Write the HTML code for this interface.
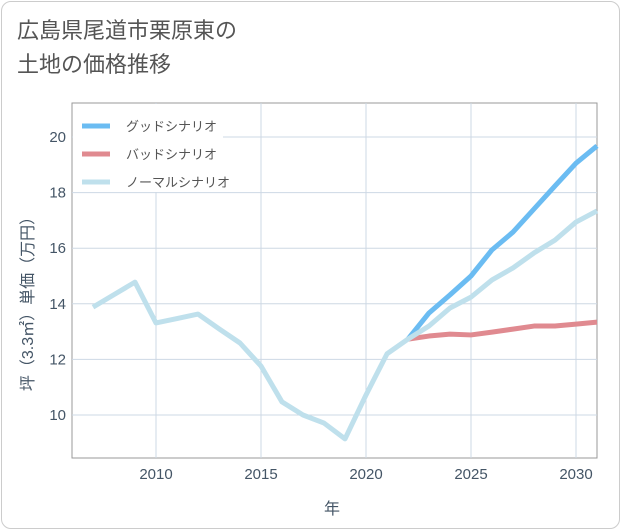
<!DOCTYPE html>
<html><head><meta charset="utf-8"><style>
body{margin:0;background:#fff;font-family:"Liberation Sans","Noto Sans CJK JP",sans-serif}
.card{position:absolute;left:1px;top:1px;width:617px;height:526px;border:1px solid #ccc;border-radius:10px;background:#fff}
.title{position:absolute;left:17px;top:14px;font-size:22px;line-height:34px;color:#555}
svg{position:absolute;left:0;top:0}
</style></head><body>
<div class="card"></div>
<div class="title">広島県尾道市栗原東の<br>土地の価格推移</div>
<svg id="c" width="621" height="530"></svg>
<script>
const years=[2007,2008,2009,2010,2011,2012,2013,2014,2015,2016,2017,2018,2019,2020,2021,2022,2023,2024,2025,2026,2027,2028,2029,2030,2031];
const normal=[13.88,14.33,14.78,13.31,13.47,13.63,13.1,12.59,11.76,10.47,10.0,9.71,9.14,10.72,12.2,12.73,13.2,13.85,14.24,14.86,15.29,15.83,16.29,16.94,17.34];
const fYears=[2022,2023,2024,2025,2026,2027,2028,2029,2030,2031];
const good=[12.73,13.67,14.32,15.0,15.94,16.58,17.41,18.24,19.06,19.68];
const bad=[12.73,12.84,12.91,12.88,12.98,13.09,13.2,13.2,13.27,13.34];
const xTicks=[2010,2015,2020,2025,2030];
const yTicks=[10,12,14,16,18,20];
const X=v=>156+(v-2010)*21, Y=v=>137-(v-20)*27.8;
const L=72,R=597,T=103,B=458;
const s=document.getElementById('c');const NS='http://www.w3.org/2000/svg';
function mk(t,a,p){const e=document.createElementNS(NS,t);for(const k in a)e.setAttribute(k,a[k]);(p||s).appendChild(e);return e;}
let e=mk('rect',{x:L,y:T,width:R-L,height:B-T,fill:'none',stroke:'#999','stroke-width':1});


xTicks.forEach(v=>{let g=mk('line',{x1:X(v),x2:X(v),y1:T,y2:B,stroke:'#cdd8e4'});


let t=mk('text',{x:X(v),y:479,'text-anchor':'middle','font-size':15,fill:'#456'});t.textContent=v;

});
yTicks.forEach(v=>{let g=mk('line',{x1:L,x2:R,y1:Y(v),y2:Y(v),stroke:'#cdd8e4'});


let t=mk('text',{x:66,y:Y(v)+5,'text-anchor':'end','font-size':15,fill:'#456'});t.textContent=v;

});
function line(xs,ys,c,n){let p=mk('polyline',{points:xs.map((x,i)=>X(x)+','+Y(ys[i])).join(' '),fill:'none',stroke:c,'stroke-width':5,'stroke-linejoin':'round'});

}
line(fYears,bad,'#e08a90','bad-scenario-line');
line(fYears,good,'#6bbcf2','good-scenario-line');
line(years,normal,'#bfe0ec','normal-scenario-line');
mk('rect',{x:73,y:104,width:150,height:88,fill:'#fff'});
[['グッドシナリオ','#6bbcf2',126],['バッドシナリオ','#e08a90',154],['ノーマルシナリオ','#bfe0ec',182]].forEach(([n,c,y])=>{
let l=mk('line',{x1:82,x2:110,y1:y,y2:y,stroke:c,'stroke-width':5});


let t=mk('text',{x:126,y:y+5,'font-size':13,fill:'#555'});t.textContent=n;

});
let xt=mk('text',{x:332,y:514,'text-anchor':'middle','font-size':16,fill:'#456'});xt.textContent='年';


let yt=mk('text',{x:0,y:0,'text-anchor':'middle','font-size':16,fill:'#456',transform:'translate(33,300) rotate(-90)'});yt.textContent='坪（3.3㎡）単価（万円）';


</script>
</body></html>
